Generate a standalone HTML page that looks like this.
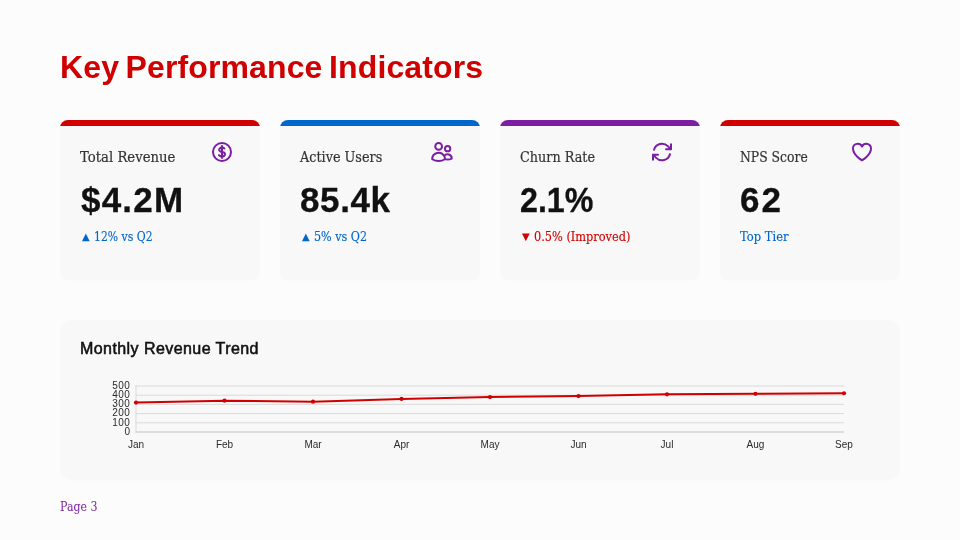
<!DOCTYPE html>
<html lang="en">
<head>
<meta charset="utf-8">
<title>Key Performance Indicators</title>
<style>
*{box-sizing:border-box;margin:0;padding:0}
html,body{width:960px;height:540px;overflow:hidden;background:#fcfcfc}
body{position:relative;font-family:"DejaVu Serif","Liberation Serif",serif;color:#111}
h1{position:absolute;left:60px;top:46.5px;font-family:"Liberation Sans","DejaVu Sans",sans-serif;font-weight:700;font-size:32px;line-height:40px;color:#d00000;white-space:nowrap;letter-spacing:.12px;word-spacing:-2.5px}
.card{position:absolute;top:120px;width:200px;height:160px;background:#f8f8f8;border-radius:8px;overflow:hidden;box-shadow:0 1px 4px rgba(0,0,0,.012)}
.card .bar{position:absolute;left:0;top:0;width:100%;height:6px;background:#d00000}
.tri{position:absolute;font-family:"DejaVu Sans",sans-serif;font-size:10px;line-height:16px;left:2.1px;top:.9px;-webkit-text-stroke:0}
.tx{position:absolute;left:14.3px;top:0;transform-origin:0 50%;white-space:nowrap}
.card .lbl{position:absolute;left:20px;top:27px;font-size:14px;line-height:20px;color:#333;white-space:nowrap;transform-origin:0 50%;-webkit-text-stroke:.2px #333}
.card .val{position:absolute;left:20px;top:57.5px;font-family:"Liberation Sans","DejaVu Sans",sans-serif;font-weight:700;font-size:35px;line-height:44px;color:#111;white-space:nowrap;letter-spacing:0.6px;-webkit-text-stroke:.3px #111}
.card .dl{position:absolute;left:20px;top:108.6px;-webkit-text-stroke:.15px currentColor;font-size:12px;line-height:16px;color:#0066cc;white-space:nowrap;transform-origin:0 50%}
.card .ic{position:absolute;right:26px;top:20px;width:24px;height:24px}
.panel{position:absolute;left:60px;top:320px;width:840px;height:160px;background:#f8f8f8;border-radius:12px;box-shadow:0 1px 4px rgba(0,0,0,.012)}
.panel h2{position:absolute;left:20px;top:19px;font-family:"Liberation Sans","DejaVu Sans",sans-serif;font-weight:400;-webkit-text-stroke:.55px #111;letter-spacing:.43px;font-size:16px;line-height:20px;color:#111;white-space:nowrap}
.foot{position:absolute;left:60px;top:499px;font-size:12px;line-height:16px;color:#7b1fa2;white-space:nowrap;transform-origin:0 50%}
#chart{position:absolute;left:0;top:0;width:960px;height:540px}
</style>
</head>
<body>
<h1>Key Performance Indicators</h1>

<div class="card" style="left:60px"><div class="bar" style="background:#d00000"></div>
  <div class="lbl" style="transform:scaleX(.945)">Total Revenue</div>
  <svg class="ic" viewBox="0 0 24 24" fill="none" stroke="#7b1fa2" stroke-width="2" stroke-linecap="round" stroke-linejoin="round"><path d="M12 6v12m-3-2.818.879.659c1.171.879 3.07.879 4.242 0 1.172-.879 1.172-2.303 0-3.182C13.536 12.219 12.768 12 12 12c-.725 0-1.45-.22-2.003-.659-1.106-.879-1.106-2.303 0-3.182s2.9-.879 4.006 0l.415.33M21 12a9 9 0 1 1-18 0 9 9 0 0 1 18 0Z"/></svg>
  <div class="val" style="letter-spacing:1.2px;margin-left:1px">$4.2M</div>
  <div class="dl"><span class="tri">▲</span><span class="tx" style="transform:scaleX(.905)">12% vs Q2</span></div>
</div>
<div class="card" style="left:280px"><div class="bar" style="background:#0066cc"></div>
  <div class="lbl" style="transform:scaleX(.915)">Active Users</div>
  <svg class="ic" viewBox="0 0 24 24" fill="none" stroke="#7b1fa2" stroke-width="2" stroke-linecap="round" stroke-linejoin="round"><path d="M15 19.128a9.38 9.38 0 0 0 2.625.372 9.337 9.337 0 0 0 4.121-.952 4.125 4.125 0 0 0-7.533-2.493M15 19.128v-.003c0-1.113-.285-2.16-.786-3.07M15 19.128v.106A12.318 12.318 0 0 1 8.624 21c-2.331 0-4.512-.645-6.374-1.766l-.001-.109a6.375 6.375 0 0 1 11.964-3.07M12 6.375a3.375 3.375 0 1 1-6.75 0 3.375 3.375 0 0 1 6.75 0Zm8.250 2.250a2.625 2.625 0 1 1-5.250 0 2.625 2.625 0 0 1 5.250 0Z"/></svg>
  <div class="val" style="letter-spacing:.6px">85.4k</div>
  <div class="dl"><span class="tri">▲</span><span class="tx" style="transform:scaleX(.93)">5% vs Q2</span></div>
</div>
<div class="card" style="left:500px"><div class="bar" style="background:#7b1fa2"></div>
  <div class="lbl" style="transform:scaleX(.915)">Churn Rate</div>
  <svg class="ic" viewBox="0 0 24 24" fill="none" stroke="#7b1fa2" stroke-width="2" stroke-linecap="round" stroke-linejoin="round"><path d="M16.023 9.348h4.992v-.001M2.985 19.644v-4.992m0 0h4.992m-4.993 0 3.181 3.183a8.25 8.25 0 0 0 13.803-3.700M4.031 9.865a8.25 8.25 0 0 1 13.803-3.700l3.181 3.182m0-4.991v4.990"/></svg>
  <div class="val" style="transform:scaleX(.92);transform-origin:0 50%;letter-spacing:0">2.1%</div>
  <div class="dl" style="color:#d00000"><span class="tri">▼</span><span class="tx" style="transform:scaleX(.945)">0.5% (Improved)</span></div>
</div>
<div class="card" style="left:720px;width:180px"><div class="bar" style="background:#d00000"></div>
  <div class="lbl" style="transform:scaleX(.885)">NPS Score</div>
  <svg class="ic" viewBox="0 0 24 24" fill="none" stroke="#7b1fa2" stroke-width="2" stroke-linecap="round" stroke-linejoin="round"><path d="M21 8.250c0-2.485-2.099-4.500-4.688-4.500-1.935 0-3.597 1.126-4.312 2.733-.715-1.607-2.377-2.733-4.313-2.733C5.100 3.750 3 5.765 3 8.250c0 7.220 9 12 9 12s9-4.780 9-12Z"/></svg>
  <div class="val" style="letter-spacing:2px">62</div>
  <div class="dl"><span class="tx" style="left:0;transform:scaleX(.96)">Top Tier</span></div>
</div>

<div class="panel">
  <h2>Monthly Revenue Trend</h2>
</div>
<svg id="chart" width="960" height="540" viewBox="0 0 960 540">
<g stroke="#dadada" stroke-width="1" fill="none">
<line x1="135.5" y1="432.00" x2="844.0" y2="432.00"/>
<line x1="135.5" y1="422.80" x2="844.0" y2="422.80"/>
<line x1="135.5" y1="413.60" x2="844.0" y2="413.60"/>
<line x1="135.5" y1="404.40" x2="844.0" y2="404.40"/>
<line x1="135.5" y1="395.20" x2="844.0" y2="395.20"/>
<line x1="135.5" y1="386.00" x2="844.0" y2="386.00"/>
<line x1="136.0" y1="385.5" x2="136.0" y2="432.5"/>
<line x1="135.5" y1="432.0" x2="844.0" y2="432.0" stroke="#d2d2d2" stroke-width="1.2"/>
</g>
<polyline points="136.00,402.56 224.50,400.72 313.00,401.64 401.50,398.88 490.00,397.04 578.50,396.12 667.00,394.28 755.50,393.82 844.00,393.27" fill="none" stroke="#d00000" stroke-width="2" stroke-linejoin="round"/>
<g fill="#d00000">
<circle cx="136.00" cy="402.56" r="2.1"/>
<circle cx="224.50" cy="400.72" r="2.1"/>
<circle cx="313.00" cy="401.64" r="2.1"/>
<circle cx="401.50" cy="398.88" r="2.1"/>
<circle cx="490.00" cy="397.04" r="2.1"/>
<circle cx="578.50" cy="396.12" r="2.1"/>
<circle cx="667.00" cy="394.28" r="2.1"/>
<circle cx="755.50" cy="393.82" r="2.1"/>
<circle cx="844.00" cy="393.27" r="2.1"/>
</g>
<g font-family="Liberation Sans, DejaVu Sans, sans-serif" font-size="10" fill="#2a2a2a">
<text x="130.4" y="434.80" text-anchor="end" letter-spacing=".45">0</text>
<text x="130.4" y="425.60" text-anchor="end" letter-spacing=".45">100</text>
<text x="130.4" y="416.40" text-anchor="end" letter-spacing=".45">200</text>
<text x="130.4" y="407.20" text-anchor="end" letter-spacing=".45">300</text>
<text x="130.4" y="398.00" text-anchor="end" letter-spacing=".45">400</text>
<text x="130.4" y="388.80" text-anchor="end" letter-spacing=".45">500</text>
<text x="136.00" y="447.6" text-anchor="middle">Jan</text>
<text x="224.50" y="447.6" text-anchor="middle">Feb</text>
<text x="313.00" y="447.6" text-anchor="middle">Mar</text>
<text x="401.50" y="447.6" text-anchor="middle">Apr</text>
<text x="490.00" y="447.6" text-anchor="middle">May</text>
<text x="578.50" y="447.6" text-anchor="middle">Jun</text>
<text x="667.00" y="447.6" text-anchor="middle">Jul</text>
<text x="755.50" y="447.6" text-anchor="middle">Aug</text>
<text x="844.00" y="447.6" text-anchor="middle">Sep</text>
</g>
</svg>
<div class="foot" style="transform:scaleX(.915)">Page 3</div>
</body>
</html>
